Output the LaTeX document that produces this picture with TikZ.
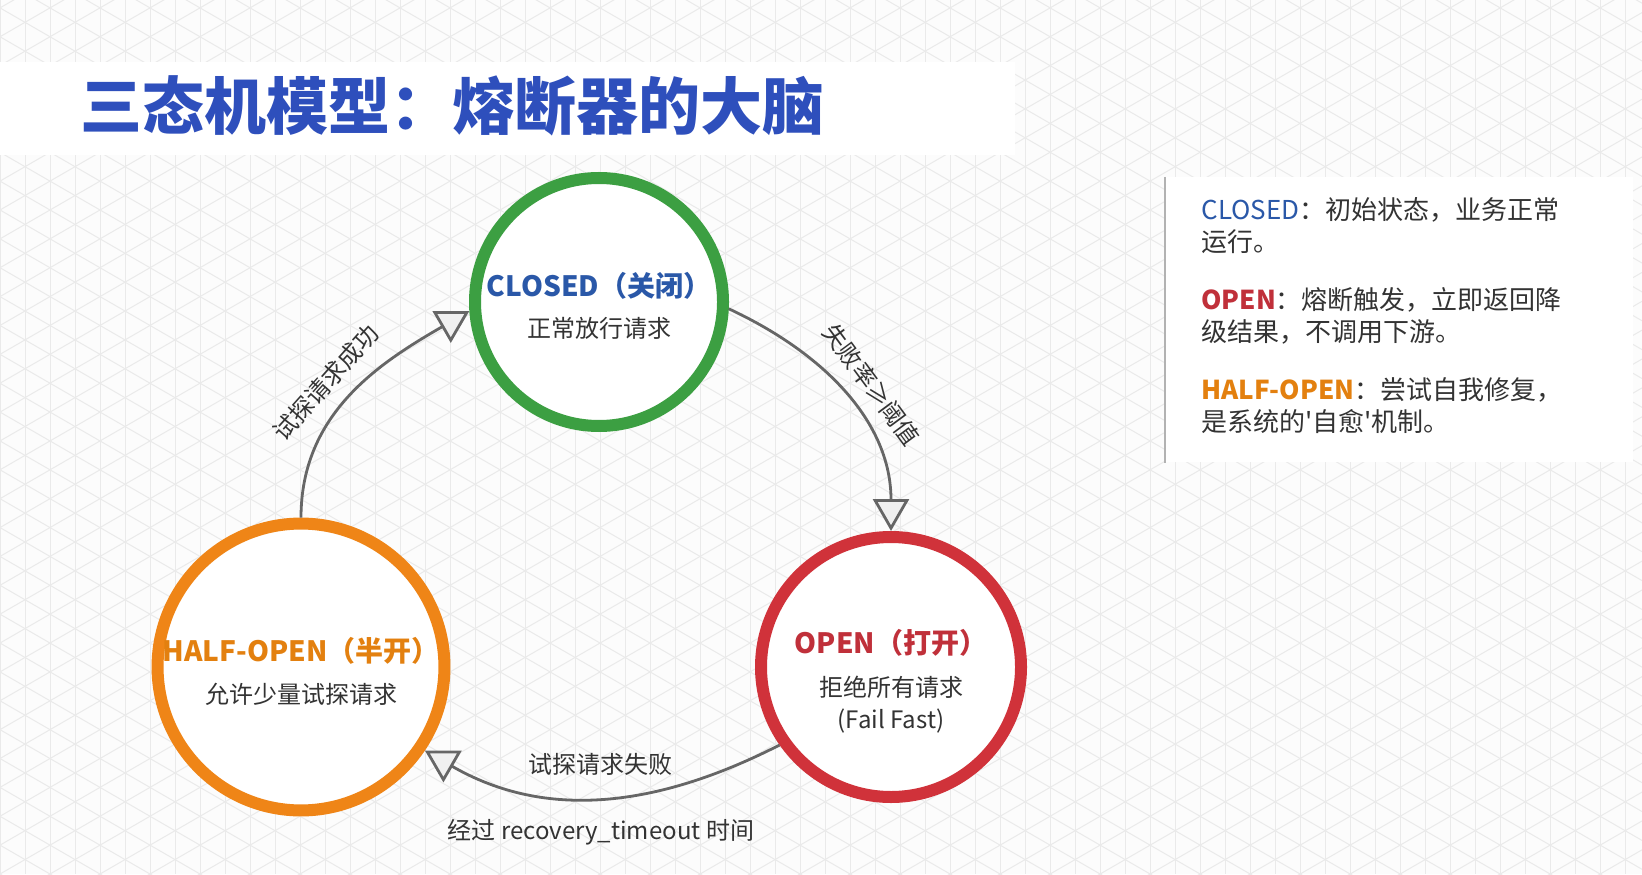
\documentclass[tikz,border=0pt]{standalone}
\usepackage{fontspec}
\setmainfont{Noto Sans CJK SC}
\newfontfamily\plainquote{Noto Sans CJK SC}
\usepackage{tikz}
\usetikzlibrary{arrows.meta,positioning,calc}
\definecolor{BreakerTitle}{HTML}{2E4FBC}
\definecolor{BreakerBlue}{HTML}{2A58A8}
\definecolor{BreakerGreen}{HTML}{3C9F42}
\definecolor{BreakerRed}{HTML}{D0323A}
\definecolor{BreakerRedText}{HTML}{C0303A}
\definecolor{BreakerOrange}{HTML}{EF8517}
\definecolor{BreakerOrangeText}{HTML}{E3800F}
\definecolor{BreakerInk}{HTML}{333333}
\definecolor{BreakerEdge}{HTML}{666666}
\definecolor{BreakerGrid}{HTML}{EAEAEA}
\definecolor{BreakerPaper}{HTML}{FCFCFC}
\newcommand{\statehead}[3]{\rule{0pt}{#1}{\bfseries\fontsize{14pt}{16pt}\selectfont\color{#2}#3}}

\begin{document}
\begin{tikzpicture}[
  x=0.5pt, y=0.5pt,
  state/.style={circle, draw=#1, line width=6pt, fill=white, align=center, inner sep=0pt,
    font=\fontsize{12pt}{16pt}\selectfont, text=BreakerInk},
  trans/.style={-{Triangle[length=16pt, width=18pt, fill=black!6]}, line width=1.4pt, draw=BreakerEdge},
  tlabel/.style={font=\fontsize{12pt}{14pt}\selectfont, text=BreakerInk}
]
\useasboundingbox (0,0) rectangle (1642,874);
% paper with iso grid
\fill[BreakerPaper] (0,0) rectangle (1642,874);
\begin{scope}
  \clip (0,0) rectangle (1642,874);
  \foreach \i in {0,...,66}
    \draw[BreakerGrid, line width=0.5pt] (\i*25,0) -- (\i*25,874);
  \foreach \j in {-34,...,64} {
    \draw[BreakerGrid, line width=0.5pt] (0,\j*28.87) -- (1642,\j*28.87+948);
    \draw[BreakerGrid, line width=0.5pt] (0,\j*28.87) -- (1642,\j*28.87-948);
  }
\end{scope}

\node[fill=white, inner sep=0pt, minimum width=507.5pt, minimum height=46.5pt, anchor=south west] (band) at (0,719) {};
\node[anchor=west, inner sep=0pt, font=\bfseries\fontsize{31pt}{36pt}\selectfont, text=BreakerTitle] (title) at (80,768) {三态机模型：熔断器的大脑};

\node[state=BreakerGreen, minimum size=124pt] (closed) at (599,572)
  {\statehead{16pt}{BreakerBlue}{CLOSED（关闭）}\\[4.5pt]正常放行请求};
\node[state=BreakerRed, minimum size=130pt] (open) at (891,207)
  {\statehead{26pt}{BreakerRedText}{OPEN（打开）}\\[5.5pt]拒绝所有请求\\(Fail Fast)};
\node[state=BreakerOrange, minimum size=130pt] (half) at (301,207)
  {\statehead{17pt}{BreakerOrangeText}{HALF-OPEN（半开）}\\[5pt]允许少量试探请求};

\draw[trans] (closed.-3) to[out=-25, in=90]
  node[tlabel, sloped, above=4pt, pos=0.52] (trip) {失败率≥阈值} (open.north);
\draw[trans] (open.215) to[out=207, in=-30]
  node[tlabel, above=7pt] (probefail) {试探请求失败}
  node[tlabel, below=7pt] (timeout) {经过 recovery\_timeout 时间} (half.-34);
\draw[trans] (half.north) to[out=90, in=210]
  node[tlabel, sloped, above=4pt, pos=0.47] (probeok) {试探请求成功} (closed.184);

% legend panel
\node[fill=white, inner sep=0pt, minimum width=234pt, minimum height=142.5pt, anchor=north west] (panel) at (1165,697) {};
\draw[black!30, line width=1pt] (panel.north west) -- (panel.south west);
\node[anchor=north west, inner sep=0pt, align=left, font=\fontsize{13pt}{16pt}\selectfont, text=BreakerInk] (legend) at (1201,677)
  {{\color{BreakerBlue}CLOSED}：初始状态，业务正常\\
   运行。\\[13pt]
   {\color{BreakerRedText}\bfseries OPEN}：熔断触发，立即返回降\\
   级结果，不调用下游。\\[13pt]
   {\color{BreakerOrangeText}\bfseries HALF-OPEN}：尝试自我修复，\\
   是系统的{\plainquote'}自愈{\plainquote'}机制。};
\end{tikzpicture}
\end{document}
